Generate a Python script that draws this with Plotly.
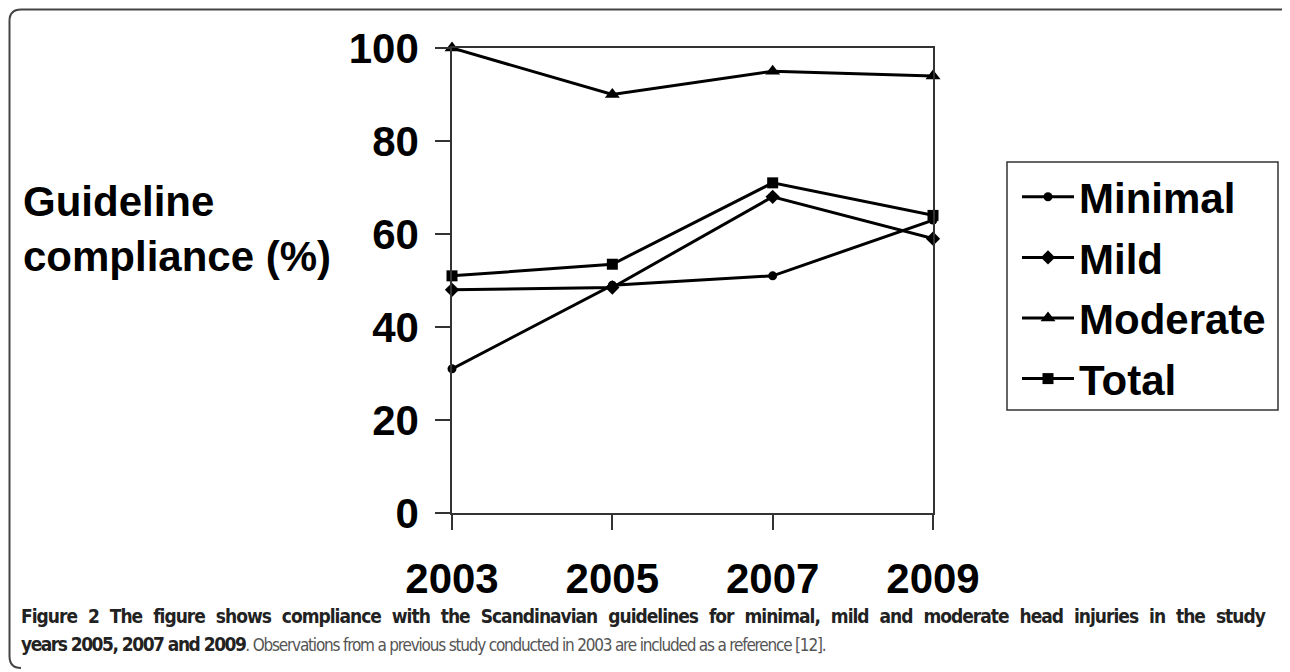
import plotly.graph_objects as go

years = [2003, 2005, 2007, 2009]
minimal = [31, 49, 51, 63]
mild = [48, 48.5, 68, 59]
moderate = [100, 90, 95, 94]
total = [51, 53.5, 71, 64]
series_names = ["Minimal", "Mild", "Moderate", "Total"]
y_ticks = [0, 20, 40, 60, 80, 100]
y_title = "Guideline<br>compliance (%)"
caption_1 = "Figure 2 The figure shows compliance with the Scandinavian guidelines for minimal, mild and moderate head injuries in the study"
caption_2_bold = "years 2005, 2007 and 2009"
caption_2_rest = ". Observations from a previous study conducted in 2003 are included as a reference [12]."

OFF = 8  # page body margin
W, H = 1290 - OFF, 672 - OFF
L, R, T, B = 452, 933, 48, 513  # plot area in screen px

def px_x(p):
    return (p - L) / (R - L)

def px_y(p):
    return (B - p) / (B - T)

FONT = "Liberation Sans, Arial, sans-serif"
CAP = "DejaVu Sans Condensed, sans-serif"
FS = 42

fig = go.Figure()
symbols = ["circle", "diamond", "triangle-up", "square"]
sizes = [9, 11, 13, 11]
for name, vals, sym, sz in zip(series_names, [minimal, mild, moderate, total], symbols, sizes):
    fig.add_trace(go.Scatter(
        x=years, y=vals, name=name, mode="lines+markers", legendgroup=name,
        line=dict(color="black", width=3),
        marker=dict(symbol=sym, size=sz, color="black"),
        cliponaxis=False,
    ))

axis_common = dict(
    showline=True, linecolor="#333", linewidth=1.5, mirror=True,
    ticks="outside", ticklen=15, tickwidth=1.5, tickcolor="#333",
    showgrid=False, zeroline=False,
    tickfont=dict(family=FONT, size=FS, color="black", weight=700),
)

fig.update_xaxes(range=[2003, 2009], tickvals=years, ticklabelstandoff=13, **axis_common)
fig.update_yaxes(range=[0, 100], tickvals=y_ticks, ticklabelstandoff=8, **axis_common)

fig.update_layout(
    width=W, height=H,
    margin=dict(l=L - OFF, r=W - (R - OFF), t=T - OFF, b=H - (B - OFF), pad=0),
    paper_bgcolor="white", plot_bgcolor="white",
    showlegend=True,
    legend=dict(
        x=px_x(1017), y=px_y(163), xanchor="left", yanchor="top",
        borderwidth=0, bgcolor="rgba(0,0,0,0)",
        font=dict(family=FONT, size=FS, color="black", weight=700),
        itemwidth=52, tracegroupgap=3,
    ),
)

# legend frame
fig.add_shape(type="rect", xref="paper", yref="paper",
              x0=px_x(1007), x1=px_x(1278), y0=px_y(162), y1=px_y(410),
              line=dict(color="#333", width=1.5), layer="below")

fig.add_annotation(
    text=y_title, xref="paper", yref="paper", x=px_x(21), y=px_y(229),
    xanchor="left", yanchor="middle", align="left", showarrow=False,
    font=dict(family=FONT, size=FS, color="black", weight=700),
)

fig.add_annotation(
    text="<b><span style='letter-spacing:-1px;word-spacing:6px'>" + caption_1 + "</span></b>",
    xref="paper", yref="paper",
    x=px_x(19), y=px_y(616), xanchor="left", yanchor="middle", align="left",
    showarrow=False, font=dict(family=CAP, size=19, color="#222"),
)
fig.add_annotation(
    text="<b><span style='letter-spacing:-1.5px'>" + caption_2_bold + "</span></b>"
         "<span style='color:#555;letter-spacing:-1.2px;font-size:17px'>" + caption_2_rest + "</span>",
    xref="paper", yref="paper",
    x=px_x(19), y=px_y(644), xanchor="left", yanchor="middle", align="left",
    showarrow=False, font=dict(family=CAP, size=19, color="#222"),
)

# outer frame (rounded top-left and bottom-left corners)
fig.add_shape(
    type="path", xref="paper", yref="paper",
    path=(f"M {px_x(1290)},{px_y(9.5)} L {px_x(21)},{px_y(9.5)} "
          f"Q {px_x(9.5)},{px_y(9.5)} {px_x(9.5)},{px_y(21)} "
          f"L {px_x(9.5)},{px_y(656)} Q {px_x(9.5)},{px_y(668)} {px_x(21)},{px_y(668)}"),
    line=dict(color="#444", width=2),
)

fig.write_html("out.html")
